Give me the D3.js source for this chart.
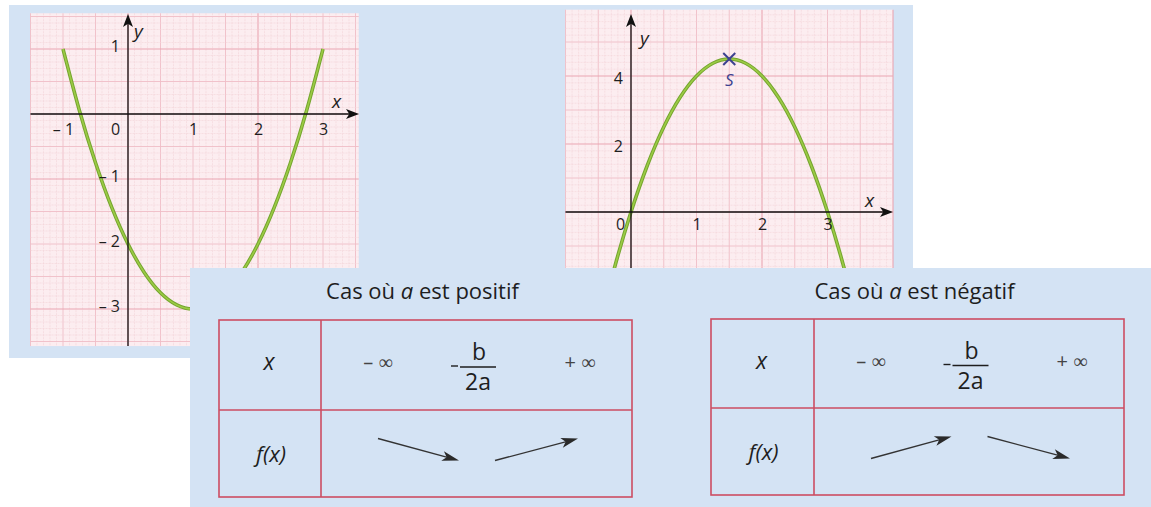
<!DOCTYPE html>
<html><head><meta charset="utf-8">
<script src="https://cdn.jsdelivr.net/npm/d3@7"></script>
<style>
body{margin:0;background:#fff;}
svg{display:block;font-family:"Open Sans","Noto Sans",sans-serif;}
</style>
</head><body>
<svg id="c" width="1151" height="507"></svg>
<script>
// ---------------- DATA ----------------
// Graph 1 : parabola with a > 0
const leftCurveX = [-1,-0.75,-0.5,-0.25,0,0.25,0.5,0.75,1,1.25,1.5,1.75,2,2.25,2.5,2.75,3];
const leftCurveY = [1,0.0625,-0.75,-1.4375,-2,-2.4375,-2.75,-2.9375,-3,-2.9375,-2.75,-2.4375,-2,-1.4375,-0.75,0.0625,1];
const leftXTicks = [-1,0,1,2,3];
const leftXTickLabels = ["– 1","0","1","2","3"];
const leftYTicks = [1,-1,-2,-3];
const leftYTickLabels = ["1","– 1","– 2","– 3"];

// Graph 2 : parabola with a < 0
const rightCurveX = [-0.5,-0.25,0,0.25,0.5,0.75,1,1.25,1.5,1.75,2,2.25,2.5,2.75,3,3.25,3.5];
const rightCurveY = [-3.5,-1.625,0,1.375,2.5,3.375,4,4.375,4.5,4.375,4,3.375,2.5,1.375,0,-1.625,-3.5];
const rightXTicks = [0,1,2,3];
const rightXTickLabels = ["0","1","2","3"];
const rightYTicks = [4,2];
const rightYTickLabels = ["4","2"];
const vertexS = [1.5, 4.5];
const vertexLabel = "S";

// Variation tables
const caseTitles = ["positif","négatif"];
const rowHeaders = ["x","f(x)"];
const xRowLabels = [["–","∞"],"-b/2a",["+","∞"]];
const variations = [["down","up"],["up","down"]];

// ---------------- DRAW ----------------
const svg = d3.select("#c");
const BLUE = "#d4e3f4";
const INK = "#1e1e1e";

svg.append("rect").attr("x",9).attr("y",5).attr("width",904).attr("height",353).attr("fill",BLUE);

function arrowHead(g, tx, ty, ang, len, hw, color){
  const c = Math.cos(ang), s = Math.sin(ang);
  const p = (a,b)=>[tx + a*c - b*s, ty + a*s + b*c];
  const pts = [p(0,0), p(-len,-hw), p(-len*0.75,0), p(-len,hw)];
  g.append("path").attr("d","M"+pts.map(q=>q.join(",")).join("L")+"Z").attr("fill",color);
}

function drawGraph(cfg){
  const g = svg.append("g");
  const x = cfg.x, y = cfg.y;
  const px0 = x(cfg.gx[0]), px1 = x(cfg.gx[1]);
  const pyTop = y(cfg.gy[1]), pyBot = y(cfg.gy[0]);
  g.append("rect").attr("x",px0).attr("y",pyTop).attr("width",px1-px0).attr("height",pyBot-pyTop).attr("fill","#fcedf0");
  const style = lvl => lvl===2 ? {c:"#eaa6b2",w:1.1} : lvl===1 ? {c:"#efbdc6",w:0.9} : {c:"#f4d3d9",w:0.6};
  const sx = cfg.xGrid;
  for(let i=Math.ceil(cfg.gx[0]/sx.step); i<=Math.floor(cfg.gx[1]/sx.step); i++){
    const lvl = ((i - sx.off) % sx.strong === 0) ? 2 : (i % sx.med === 0 ? 1 : 0);
    const st = style(lvl), xv = x(i*sx.step);
    g.append("line").attr("x1",xv).attr("x2",xv).attr("y1",pyTop).attr("y2",pyBot)
      .attr("stroke",st.c).attr("stroke-width",st.w).attr("stroke-dasharray",lvl===0?"2,1":null);
  }
  const sy = cfg.yGrid;
  for(let i=Math.ceil(cfg.gy[0]/sy.step); i<=Math.floor(cfg.gy[1]/sy.step); i++){
    const lvl = ((i - sy.off) % sy.strong === 0) ? 2 : (i % sy.med === 0 ? 1 : 0);
    const st = style(lvl), yv = y(i*sy.step);
    g.append("line").attr("x1",px0).attr("x2",px1).attr("y1",yv).attr("y2",yv)
      .attr("stroke",st.c).attr("stroke-width",st.w).attr("stroke-dasharray",lvl===0?"2,1":null);
  }
  // curve
  const pts = cfg.cx.map((v,i)=>[v,cfg.cy[i]]);
  const line = d3.line().x(d=>x(d[0])).y(d=>y(d[1])).curve(d3.curveNatural);
  g.append("path").attr("d",line(pts)).attr("fill","none").attr("stroke","#74a52e").attr("stroke-width",3.6);
  g.append("path").attr("d",line(pts)).attr("fill","none").attr("stroke","#9ccb45").attr("stroke-width",1.6);
  // axes lines
  const y0 = y(0), x0 = x(0);
  g.append("line").attr("x1",px0).attr("x2",cfg.xTip-4).attr("y1",y0).attr("y2",y0).attr("stroke","#111").attr("stroke-width",1.3);
  arrowHead(g, cfg.xTip, y0, 0, 13, 5, "#111");
  g.append("line").attr("x1",x0).attr("x2",x0).attr("y1",cfg.yBottom).attr("y2",cfg.yTip+4).attr("stroke","#111").attr("stroke-width",1.3);
  arrowHead(g, x0, cfg.yTip, -Math.PI/2, 13, 5, "#111");
  // tick labels via d3 axes
  const ax = g.append("g").attr("transform",`translate(0,${y0})`)
    .call(d3.axisBottom(x).tickValues(cfg.xt).tickFormat((d,i)=>cfg.xtl[i]).tickSize(0).tickPadding(cfg.xPad));
  ax.select(".domain").remove();
  ax.attr("font-size",16).attr("font-family",null);
  ax.selectAll("text").attr("fill",INK).attr("dx",d=>d===0?cfg.zeroDx:0);
  const ay = g.append("g").attr("transform",`translate(${x0},0)`)
    .call(d3.axisLeft(y).tickValues(cfg.yt).tickFormat((d,i)=>cfg.ytl[i]).tickSize(0).tickPadding(8));
  ay.select(".domain").remove();
  ay.attr("font-size",16).attr("font-family",null);
  ay.selectAll("text").attr("fill",INK).attr("transform",`translate(0,${cfg.yDy})`);
  // axis names
  g.append("text").attr("x",cfg.xName[0]).attr("y",cfg.xName[1]).text("x")
    .attr("font-size",19).attr("font-style","italic").attr("fill",INK);
  g.append("text").attr("x",cfg.yName[0]).attr("y",cfg.yName[1]).text("y")
    .attr("font-size",19).attr("font-style","italic").attr("fill",INK);
  return g;
}

// Left graph
const xL = d3.scaleLinear().domain([0,1]).range([128,193]);
const yL = d3.scaleLinear().domain([0,1]).range([114,49]);
drawGraph({x:xL,y:yL,gx:[-1.5,3.55],gy:[-3.57,1.55],
  xGrid:{step:0.1,med:5,strong:20,off:0}, yGrid:{step:0.1,med:5,strong:20,off:10},
  cx:leftCurveX, cy:leftCurveY, xTip:359, yTip:14, yBottom:346,
  xt:leftXTicks, xtl:leftXTickLabels, xPad:10, zeroDx:-13,
  yt:leftYTicks, ytl:leftYTickLabels, yDy:-3,
  xName:[332,108], yName:[134,38]});

// Right graph
const xR = d3.scaleLinear().domain([0,1]).range([631,696.5]);
const yR = d3.scaleLinear().domain([0,1]).range([212,178]);
const gR = drawGraph({x:xR,y:yR,gx:[-1,4],gy:[-2.2,5.95],
  xGrid:{step:0.1,med:5,strong:20,off:0}, yGrid:{step:0.2,med:5,strong:10,off:0},
  cx:rightCurveX, cy:rightCurveY, xTip:893, yTip:14, yBottom:280,
  xt:rightXTicks, xtl:rightXTickLabels, xPad:7, zeroDx:-11,
  yt:rightYTicks, ytl:rightYTickLabels, yDy:2,
  xName:[865,207], yName:[640,45]});
// vertex S
const sx = xR(vertexS[0]), sy = yR(vertexS[1]);
gR.append("path").attr("d",`M${sx-6},${sy-6}L${sx+6},${sy+6}M${sx-6},${sy+6}L${sx+6},${sy-6}`)
  .attr("stroke","#3d4290").attr("stroke-width",2);
gR.append("text").attr("x",sx).attr("y",sy+27).attr("text-anchor","middle").text(vertexLabel)
  .attr("font-size",17).attr("font-style","italic").attr("fill","#3d4290");

// ---------------- Panel with variation tables ----------------
svg.append("rect").attr("x",190).attr("y",268).attr("width",961).attr("height",239).attr("fill",BLUE);

const tableBoxes = [
  {x0:219,xDiv:321,x1:632,y0:320,yDiv:410,y1:497},
  {x0:711,xDiv:814,x1:1124,y0:319,yDiv:408,y1:495}
];
const RED = "#cc4d62";

tableBoxes.forEach((b,k)=>{
  const g = svg.append("g");
  const t = g.append("text").attr("x",(b.x0+b.x1)/2 - 3).attr("y",299).attr("text-anchor","middle")
    .attr("font-size",22).attr("fill",INK);
  t.append("tspan").text("Cas où ");
  t.append("tspan").attr("font-style","italic").text("a");
  t.append("tspan").text(" est " + caseTitles[k]);
  g.append("rect").attr("x",b.x0).attr("y",b.y0).attr("width",b.x1-b.x0).attr("height",b.y1-b.y0)
    .attr("fill","none").attr("stroke",RED).attr("stroke-width",1.6);
  g.append("line").attr("x1",b.xDiv).attr("x2",b.xDiv).attr("y1",b.y0).attr("y2",b.y1).attr("stroke",RED).attr("stroke-width",1.6);
  g.append("line").attr("x1",b.x0).attr("x2",b.x1).attr("y1",b.yDiv).attr("y2",b.yDiv).attr("stroke",RED).attr("stroke-width",1.6);
  const r1 = (b.y0+b.yDiv)/2 - 3, r2 = (b.yDiv+b.y1)/2;
  const hx = (b.x0+b.xDiv)/2 - 1;
  g.append("text").attr("x",hx).attr("y",r1+8).attr("text-anchor","middle").attr("font-size",23)
    .attr("font-style","italic").attr("fill",INK).text(rowHeaders[0]);
  g.append("text").attr("x",hx+2).attr("y",r2+8).attr("text-anchor","middle").attr("font-size",22)
    .attr("font-style","italic").attr("fill",INK).text(rowHeaders[1]);
  const col = d3.scalePoint().domain(d3.range(xRowLabels.length)).range([b.xDiv+57, b.x1-52]);
  xRowLabels.forEach((lab,i)=>{
    const cx = col(i);
    if(lab === "-b/2a"){
      g.append("line").attr("x1",cx-19).attr("x2",cx+17).attr("y1",r1+5).attr("y2",r1+5).attr("stroke",INK).attr("stroke-width",1.3);
      g.append("line").attr("x1",cx-28).attr("x2",cx-21).attr("y1",r1+4).attr("y2",r1+4).attr("stroke",INK).attr("stroke-width",1.4);
      g.append("text").attr("x",cx).attr("y",r1-2).attr("text-anchor","middle").attr("font-size",23).attr("fill",INK).text("b");
      g.append("text").attr("x",cx-1).attr("y",r1+28).attr("text-anchor","middle").attr("font-size",23).attr("fill",INK).text("2a");
    } else {
      const tt = g.append("text").attr("x",cx).attr("y",r1+7).attr("text-anchor","middle").attr("fill","#444");
      tt.append("tspan").attr("font-size",20).text(lab[0] + " ");
      tt.append("tspan").attr("font-size",20).attr("font-family","DejaVu Sans").attr("font-weight",300).text(lab[1]);
    }
  });
  const high = r2 - 15, low = r2 + 7;
  variations[k].forEach((dir,i)=>{
    const xa = col(i) + (i===0 ? 0 : 16);
    const xb = col(i+1) - (i===0 ? 20 : 2);
    const ya = dir==="down" ? high : low;
    const yb = dir==="down" ? low : high;
    const ang = Math.atan2(yb-ya, xb-xa);
    g.append("line").attr("x1",xa).attr("y1",ya).attr("x2",xb-10*Math.cos(ang)).attr("y2",yb-10*Math.sin(ang))
      .attr("stroke","#333").attr("stroke-width",1.3);
    arrowHead(g, xb, yb, ang, 17, 5, "#2a2a2a");
  });
});
</script>
</body></html>
